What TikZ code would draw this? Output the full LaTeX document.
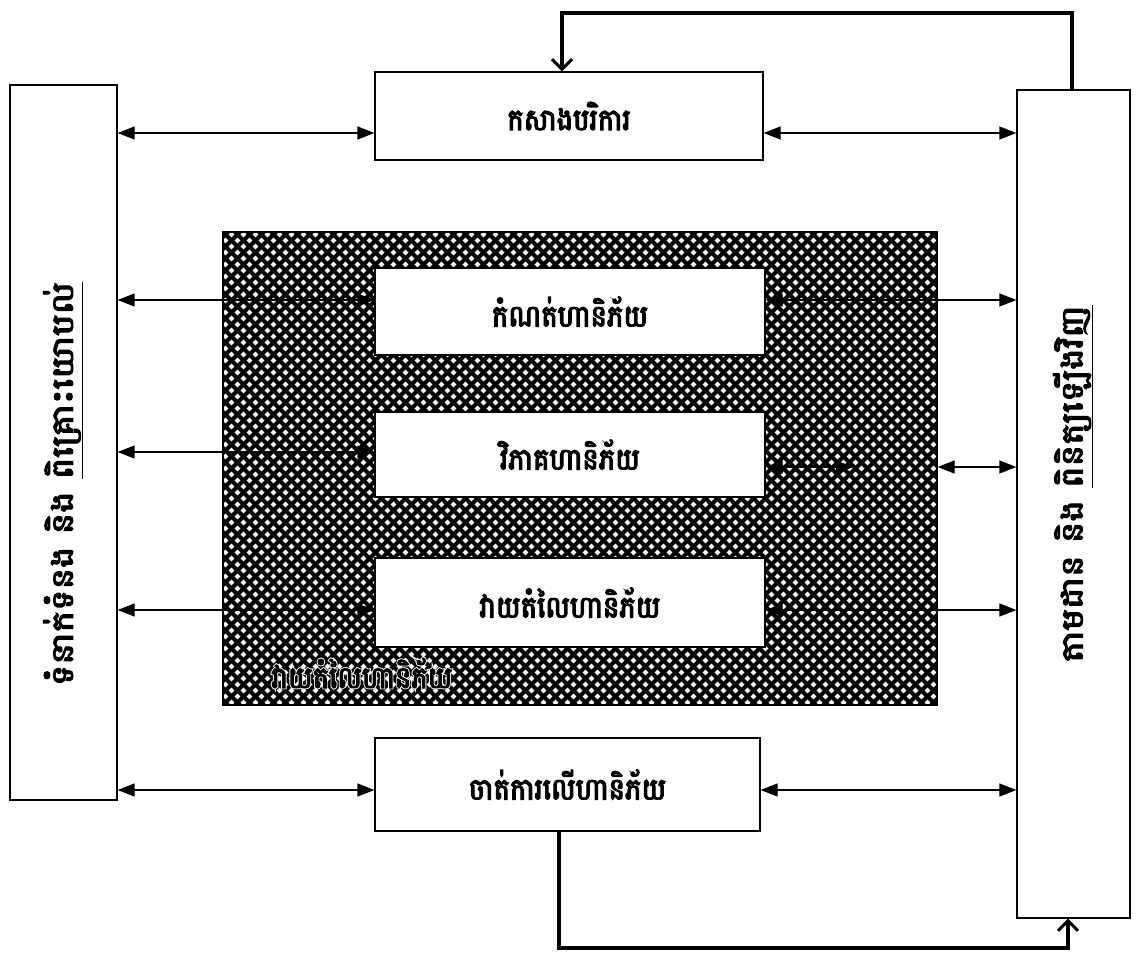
\documentclass[tikz,border=0pt]{standalone}
\usepackage{fontspec}
\newfontfamily\kh[Script=Khmer,FakeBold=4,FakeStretch=0.92]{Battambang}
\newfontfamily\khside[Script=Khmer,FakeBold=4,FakeStretch=1.2]{Battambang}
\newfontfamily\khhalo[Script=Khmer,FakeBold=10,FakeStretch=0.92]{Battambang}
\usetikzlibrary{arrows.meta}
\begin{document}
\begin{tikzpicture}[x=1pt,y=-1pt,
  khfont/.style={font=\kh\fontsize{30}{34}\selectfont},
  sidefont/.style={font=\khside\fontsize{30}{34}\selectfont},
  box/.style={draw, line width=1.3pt, fill=white, inner sep=0pt, khfont},
  side/.style={draw, line width=1.3pt, fill=white, inner sep=0pt},
  bi/.style={line width=1.3pt, {Triangle[length=17pt,width=13pt]}-{Triangle[length=17pt,width=13pt]}},
  fb/.style={line width=3.5pt, -{Straight Barb[length=10pt,width=20pt,line width=3pt]}},
  hatch/.style={line width=4pt, black}]
\useasboundingbox (0,0) rectangle (1138,966);
% side boxes
\node[side, minimum width=107pt, minimum height=715pt] (L) at (63.5,442.5) {};
\node[side, minimum width=113pt, minimum height=828pt] (R) at (1073.5,504) {};
\node[sidefont, rotate=90] (Lt) at (63,484) {ទំនាក់ទំនង និង \underline{ពិគ្រោះយោបល់}};
\node[sidefont, rotate=90] (Rt) at (1073,484) {តាមដាន និង \underline{ពិនិត្យឡើងវិញ}};
% shaded region
\node[draw, line width=1.3pt, minimum width=714pt, minimum height=473pt, inner sep=0pt] (S) at (580,468.5) {};
\begin{scope}
  \clip (223,232) rectangle (937,705);
  \foreach \i in {-480,-468,...,720} {
    \draw[hatch] (223+\i,232) -- ++(473,473);
    \draw[hatch] (223+\i,705) -- ++(473,-473);
  }
\end{scope}
\draw[line width=1.3pt] (S.south west) rectangle (S.north east);
\node[font=\khhalo\fontsize{30}{34}\selectfont, text=white] (Sh) at (362,673) {វាយតំលៃហានិភ័យ};
\node[khfont] (St) at (362,673) {វាយតំលៃហានិភ័យ};
% process boxes
\node[box, minimum width=388pt, minimum height=88pt] (T) at (569,116) {កសាងបរិការ};
\node[box, minimum width=390pt, minimum height=87pt] (B2) at (570,311.5) {កំណត់ហានិភ័យ};
\node[box, minimum width=390pt, minimum height=85pt] (B3) at (570,454.5) {វិភាគហានិភ័យ};
\node[box, minimum width=390pt, minimum height=89pt] (B4) at (570,602.5) {វាយតំលៃហានិភ័យ};
\node[box, minimum width=385pt, minimum height=93pt] (B5) at (567.5,784.5) {ចាត់ការលើហានិភ័យ};
% row coordinates
\coordinate (r1) at (0,133);
\coordinate (r2) at (0,300);
\coordinate (r3) at (0,452);
\coordinate (r3b) at (853,467);
\coordinate (r4) at (0,610);
\coordinate (r5) at (0,790);
% left arrows
\draw[bi] (L.east |- r1) -- (T.west |- r1);
\draw[bi] (L.east |- r2) -- (B2.west |- r2);
\draw[bi] (L.east |- r3) -- (B3.west |- r3);
\draw[bi] (L.east |- r4) -- (B4.west |- r4);
\draw[bi] (L.east |- r5) -- (B5.west |- r5);
% right arrows
\draw[bi] (T.east |- r1) -- (R.west |- r1);
\draw[bi] (B2.east |- r2) -- (R.west |- r2);
\draw[bi] (B3.east |- r3b) -- (r3b);
\draw[bi] (S.east |- r3b) -- (R.west |- r3b);
\draw[bi] (B4.east |- r4) -- (R.west |- r4);
\draw[bi] (B5.east |- r5) -- (R.west |- r5);
% feedback loops
\coordinate (c1) at (1072,13);
\coordinate (c2) at (562,13);
\draw[fb] (R.north -| c1) -- (c1) -- (c2) -- (T.north -| c2);
\coordinate (d1) at (559,948);
\coordinate (d2) at (1068,948);
\draw[fb] (B5.south -| d1) -- (d1) -- (d2) -- (R.south -| d2);
\end{tikzpicture}
\end{document}
